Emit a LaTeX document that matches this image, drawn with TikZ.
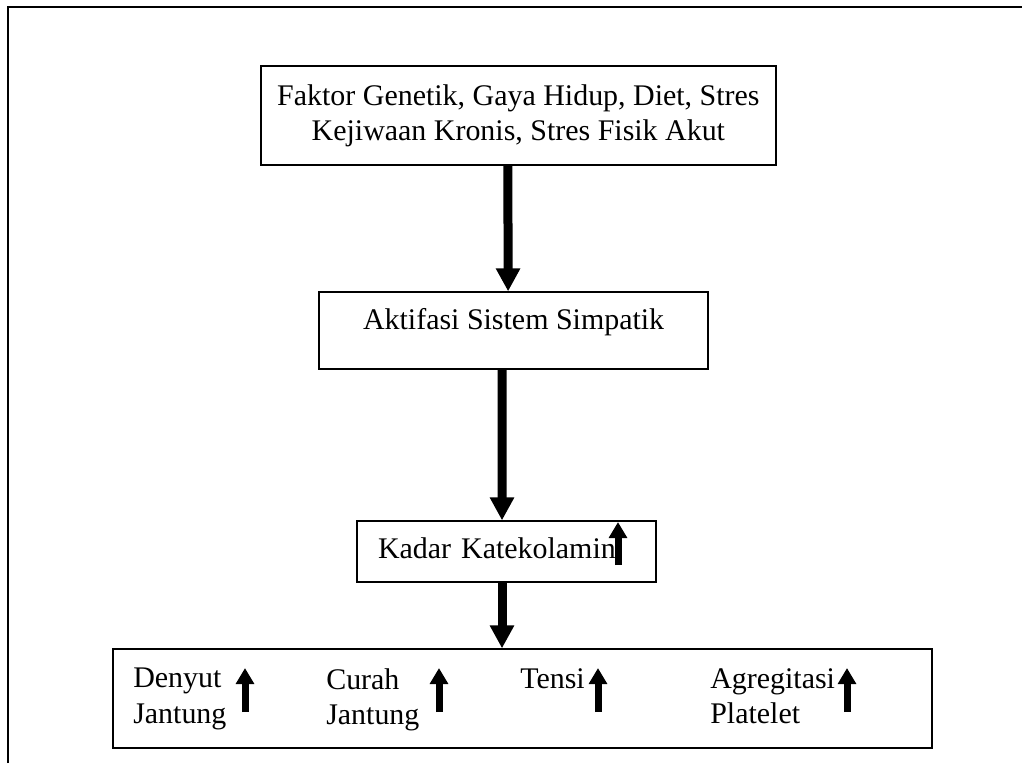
\documentclass[tikz,border=0pt]{standalone}
\usepackage{fontspec}
\setmainfont{Liberation Serif}
\usetikzlibrary{arrows.meta}

\begin{document}
\begin{tikzpicture}[
    kotak/.style={draw, line width=0.9pt, inner sep=0pt, font=\fontsize{21.3}{25}\selectfont},
    teks/.style={inner sep=0pt, anchor=north west, align=left, font=\fontsize{21.3}{25}\selectfont},
    panah/.style={line width=0.225cm, -{Triangle[length=0.575cm,width=0.575cm]}},
    naik/.style={line width=0.175cm, -{Triangle[length=0.4cm,width=0.44cm]}}
]
        \useasboundingbox (0,0) rectangle (25.55,-19.075);

        % Bingkai luar
        \draw[line width=1pt] (0.2,-19.075) -- (0.2,-0.175) -- (25.55,-0.175);

        % Kotak
        \node[kotak, minimum width=12.875cm, minimum height=2.475cm, align=center] (faktor) at (12.96,-2.89) {Faktor Genetik, Gaya Hidup, Diet, Stres\\Kejiwaan Kronis, Stres Fisik Akut};
        \node[kotak, minimum width=9.725cm, text height=0.925cm, text depth=1.0cm] (aktif) at (12.84,-8.2625) {Aktifasi Sistem Simpatik};
        \node[kotak, inner xsep=0.525cm, text width=6.425cm, text height=0.925cm, text depth=0.6cm] (kadar) at (12.6625,-13.7875) {Kadar Katekolamin};
        \node[kotak, minimum width=20.475cm, minimum height=2.475cm] (efek) at (13.0625,-17.4625) {};

        % Isi kotak bawah
        \node[teks] (denyut) at (3.325,-16.7) {Denyut\\Jantung};
        \node[teks] (curah) at (8.15,-16.7) {Curah\\Jantung};
        \node[teks] (tensi) at (13.0,-16.7) {Tensi};
        \node[teks] (agregasi) at (17.75,-16.7) {Agregitasi\\Platelet};

        % Panah naik
        \foreach \x in {6.125, 10.975, 14.95, 21.175}
            \draw[naik] (\x,-17.8) -- (\x,-16.7);
        \draw[naik] (15.45,-14.125) -- (15.45,-13.05);

        % Panah antar kotak
        \draw[panah] ([xshift=-0.2625cm]faktor.south) -- ([xshift=-0.1375cm]aktif.north);
        \draw[panah] ([xshift=-0.2875cm]aktif.south) -- ([xshift=-0.1125cm]kadar.north);
        \draw[panah] ([xshift=-0.1125cm]kadar.south) -- ([xshift=-0.5125cm]efek.north);
    \end{tikzpicture}
\end{document}
